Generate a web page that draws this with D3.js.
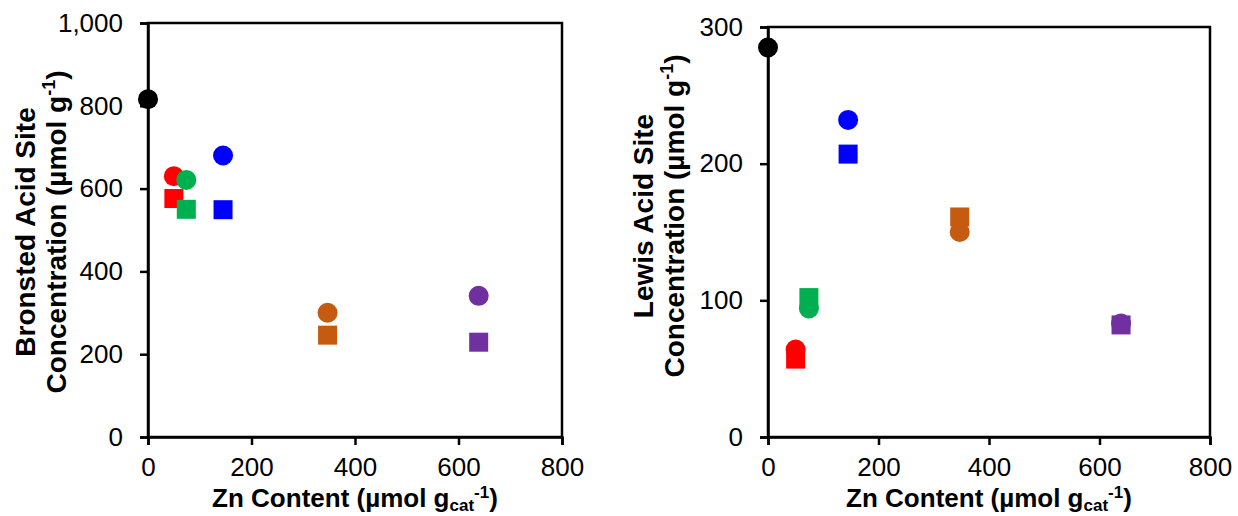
<!DOCTYPE html>
<html>
<head>
<meta charset="utf-8">
<script src="https://cdn.jsdelivr.net/npm/d3@7"></script>
<style>
  body { margin: 0; background: #fff; }
  text { font-family: "Liberation Sans", Arial, sans-serif; fill: #000; }
  .tick text { font-size: 26px; }
  .title { font-weight: bold; }
</style>
</head>
<body>
<div id="container"></div>
<script>
// Zn content of each sample (x), one colour per sample
const znContent = [0, 50, 74, 145, 347, 639];
const colors = ["#000000", "#FF0000", "#00B050", "#0000FF", "#C55A11", "#7030A0"];

// Bronsted acid sites (umol/g): circles and squares
const bronstedCircle = [816, 630, 621, 680, 300, 341];
const bronstedSquare = [null, 576, 550, 549, 246, 229];

// Lewis acid sites (umol/g)
const lewisCircle = [285, 64, 94, 232, 150, 83];
const lewisSquare = [null, 57, 102, 207, 161, 82];

const xTicks = [0, 200, 400, 600, 800];
const bronstedTicks = [0, 200, 400, 600, 800, 1000];
const lewisTicks = [0, 100, 200, 300];

const width = 1238, height = 516;
const container = d3.select("#container");
const svg = container.append("svg").attr("width", width).attr("height", height);

function drawPanel(opts) {
    const x = d3.scaleLinear().domain([0, 800]).range([opts.left, opts.right]);
    const y = d3.scaleLinear().domain([0, opts.yMax]).range([opts.bottom, opts.top]);
    const g = svg.append("g");

    // frame (top and right)
    g.append("rect")
        .attr("x", opts.left).attr("y", opts.top)
        .attr("width", opts.right - opts.left).attr("height", opts.bottom - opts.top)
        .attr("fill", "none").attr("stroke", "#000").attr("stroke-width", 2.5);

    const xAxis = g.append("g")
        .attr("transform", `translate(0,${opts.bottom})`)
        .call(d3.axisBottom(x).tickValues(xTicks).tickSize(8).tickPadding(13).tickFormat(d3.format("d")));
    const yAxis = g.append("g")
        .attr("transform", `translate(${opts.left},0)`)
        .call(d3.axisLeft(y).tickValues(opts.ticks).tickSize(8).tickPadding(17).tickFormat(d3.format(",")));
    [xAxis, yAxis].forEach(a => {
        a.select(".domain").attr("stroke-width", 2.5);
        a.selectAll(".tick line").attr("stroke-width", 2.5);
        a.selectAll(".tick text").attr("font-size", null).attr("font-family", null);
    });

    // squares first, circles on top
    const pts = znContent.map((z, i) => ({ z, i, c: opts.circles[i], s: opts.squares[i] }));
    g.selectAll(".sq").data(pts.filter(d => d.s != null)).join("rect")
        .attr("x", d => x(d.z) - 9.5).attr("y", d => y(d.s) - 9.5)
        .attr("width", 19).attr("height", 19)
        .attr("fill", d => colors[d.i]);
    g.selectAll(".ci").data(pts).join("circle")
        .attr("cx", d => x(d.z)).attr("cy", d => y(d.c)).attr("r", 10)
        .attr("fill", d => colors[d.i]);

    // x title
    const xt = g.append("text").attr("class", "title")
        .attr("font-size", 26)
        .attr("x", (opts.left + opts.right) / 2).attr("y", 507)
        .attr("text-anchor", "middle");
    xt.append("tspan").text("Zn Content (µmol g");
    xt.append("tspan").attr("font-size", 17).attr("dy", 4).text("cat");
    xt.append("tspan").attr("font-size", 17).attr("dy", -13).text("-1");
    xt.append("tspan").attr("dy", 9).text(")");

    // y title, two lines
    const cy = opts.titleY;
    g.append("text").attr("class", "title")
        .attr("font-size", 28)
        .attr("transform", `translate(${opts.titleX},${cy}) rotate(-90)`)
        .attr("text-anchor", "middle")
        .text(opts.yLine1);
    const y2 = g.append("text").attr("class", "title")
        .attr("font-size", 28)
        .attr("transform", `translate(${opts.titleX + 31},${cy}) rotate(-90)`)
        .attr("text-anchor", "middle");
    y2.append("tspan").text("Concentration (µmol g");
    y2.append("tspan").attr("font-size", 18).attr("dy", -11).text("-1");
    y2.append("tspan").attr("dy", 11).text(")");
}

drawPanel({
    left: 148, right: 562, top: 23, bottom: 437, yMax: 1000,
    ticks: bronstedTicks, circles: bronstedCircle, squares: bronstedSquare,
    titleX: 35, titleY: 232, yLine1: "Bronsted Acid Site"
});

drawPanel({
    left: 768, right: 1210, top: 27, bottom: 437, yMax: 300,
    ticks: lewisTicks, circles: lewisCircle, squares: lewisSquare,
    titleX: 653, titleY: 216, yLine1: "Lewis Acid Site"
});
</script>
</body>
</html>
